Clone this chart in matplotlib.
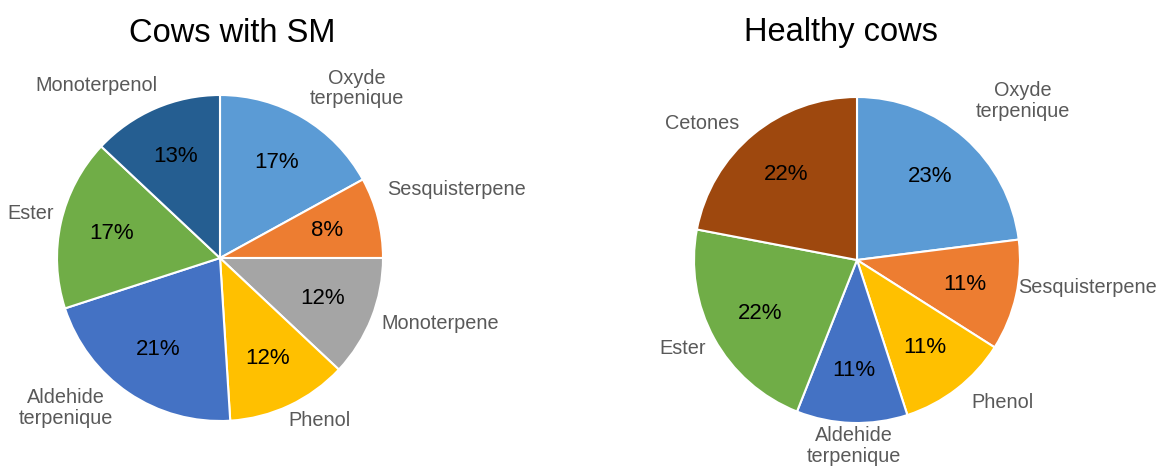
import matplotlib.pyplot as plt

plt.rcParams['font.family'] = ['Liberation Sans', 'DejaVu Sans']

# Cows with SM
sm_labels = ["Oxyde\nterpenique", "Sesquisterpene", "Monoterpene", "Phenol",
             "Aldehide\nterpenique", "Ester", "Monoterpenol"]
sm_values = [17, 8, 12, 12, 21, 17, 13]

# Healthy cows
healthy_labels = ["Oxyde\nterpenique", "Sesquisterpene", "Phenol",
                  "Aldehide\nterpenique", "Ester", "Cetones"]
healthy_values = [23, 11, 11, 11, 22, 22]

palette = {
    "Oxyde\nterpenique": "#5B9BD5",
    "Sesquisterpene": "#ED7D31",
    "Monoterpene": "#A5A5A5",
    "Phenol": "#FFC000",
    "Aldehide\nterpenique": "#4472C4",
    "Ester": "#70AD47",
    "Monoterpenol": "#255E91",
    "Cetones": "#9E480E",
}

# category label positions, in units of pie radius
sm_label_pos = [(0.84, 1.04), (1.45, 0.42), (1.35, -0.40), (0.61, -1.0),
                (-0.945, -0.92), (-1.16, 0.276), (-0.755, 1.06)]
healthy_label_pos = [(1.02, 0.975), (1.417, -0.166), (0.89, -0.877),
                     (-0.018, -1.14), (-1.067, -0.54), (-0.95, 0.84)]

W, H = 1158, 467
R = 163  # pie radius in pixels

fig = plt.figure(figsize=(W / 100, H / 100), dpi=100)


def draw_pie(x0, x1, cx, cy, labels, values, label_pos, title, title_x):
    ax = fig.add_axes([x0 / W, 0, (x1 - x0) / W, 1])
    ax.pie(values, colors=[palette[l] for l in labels],
           startangle=90, counterclock=False,
           autopct="%.0f%%", pctdistance=0.68,
           wedgeprops=dict(edgecolor="white", linewidth=1.5),
           textprops=dict(fontsize=16, color="black"))
    ax.set_xlim((x0 - cx) / R, (x1 - cx) / R)
    ax.set_ylim((cy - H) / R, cy / R)
    ax.set_aspect("equal")
    for lab, (lx, ly) in zip(labels, label_pos):
        ax.text(lx, ly, lab, ha="center", va="center", fontsize=14.3,
                color="#595959", linespacing=1.1)
    ax.text((title_x - cx) / R, (cy - 33) / R, title, ha="center",
            va="center", fontsize=23.5, color="black")


draw_pie(0, 560, 220, 258, sm_labels, sm_values, sm_label_pos,
         "Cows with SM", 232)
draw_pie(600, 1158, 857, 260, healthy_labels, healthy_values,
         healthy_label_pos, "Healthy cows", 841)

fig.savefig("out.png", dpi=100)
